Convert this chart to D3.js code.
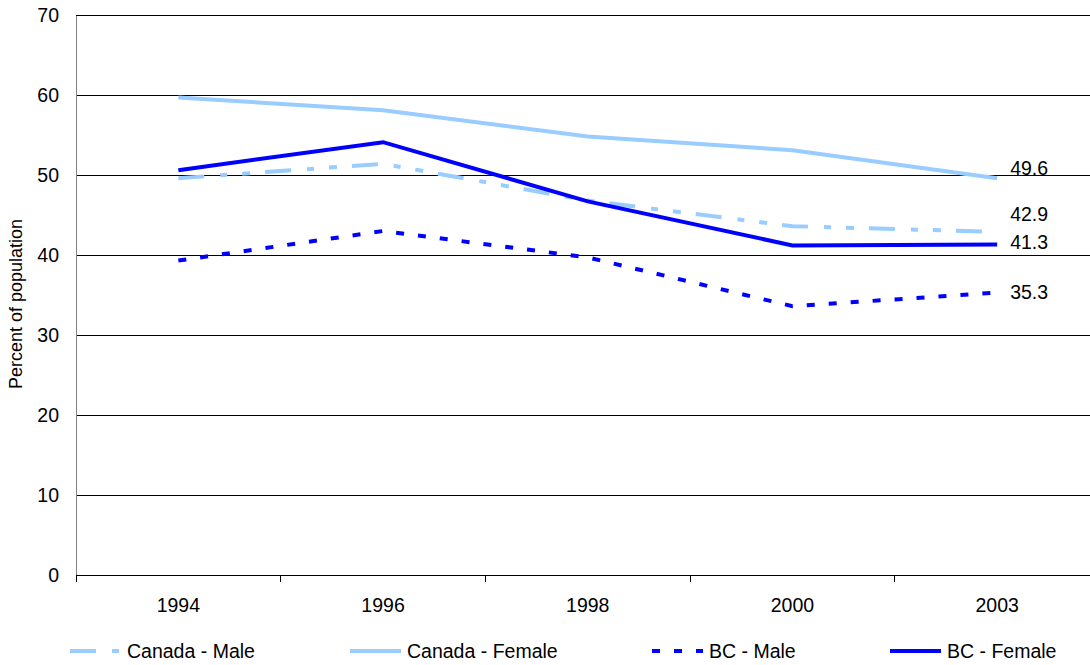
<!DOCTYPE html>
<html lang="en">
<head>
<meta charset="utf-8">
<title>Percent of population</title>
<script src="https://cdn.jsdelivr.net/npm/d3@7"></script>
<style>
  body { margin: 0; background: #fff; }
  text { font-family: "Liberation Sans", Arial, sans-serif; fill: #000; }
</style>
</head>
<body>
<div id="chart"></div>
<script>
// values
var years = ["1994", "1996", "1998", "2000", "2003"];
var canadaMale = [49.6, 51.4, 46.8, 43.6, 42.9];
var canadaFemale = [59.7, 58.1, 54.8, 53.1, 49.6];
var bcMale = [39.3, 43.0, 39.7, 33.6, 35.3];
var bcFemale = [50.6, 54.1, 46.7, 41.2, 41.3];
var yTicks = [0, 10, 20, 30, 40, 50, 60, 70];

var W = 1090, H = 665;
var plot = { left: 76, top: 15, right: 1099.5, bottom: 575 };
var fs = 19.5;

var series = [
  { name: "Canada - Male", values: canadaMale, color: "#99ccff", dash: "26,16,7,15,8,15", dy: -18 },
  { name: "Canada - Female", values: canadaFemale, color: "#99ccff", dash: null, dy: -10 },
  { name: "BC - Male", values: bcMale, color: "#0000ff", dash: "8,14", dy: 0 },
  { name: "BC - Female", values: bcFemale, color: "#0000ff", dash: null, dy: -2 }
];
var legendX = [70, 350, 652, 890];

var svg = d3.select("#chart").append("svg")
  .attr("width", W).attr("height", H);

var x = d3.scaleBand().domain(years).range([plot.left, plot.right]);
var y = d3.scaleLinear().domain([0, 70]).range([plot.bottom, plot.top]);

// gridlines
svg.append("g").selectAll("line")
  .data(yTicks.filter(function (d) { return d > 0; }))
  .enter().append("line")
  .attr("x1", plot.left).attr("x2", plot.right)
  .attr("y1", function (d) { return y(d); })
  .attr("y2", function (d) { return y(d); })
  .attr("stroke", "#000").attr("stroke-width", 1)
  .attr("shape-rendering", "crispEdges");

// y axis
var yAxis = svg.append("g")
  .attr("transform", "translate(" + plot.left + ",0)")
  .call(d3.axisLeft(y).tickValues(yTicks).tickSize(0).tickPadding(17));
yAxis.select(".domain").attr("stroke", "#808080").attr("shape-rendering", "crispEdges");
yAxis.selectAll("text").attr("font-size", fs).attr("font-family", "Liberation Sans, Arial, sans-serif");

// x axis with ticks between categories
var xAxisG = svg.append("g")
  .attr("transform", "translate(0," + plot.bottom + ")");
xAxisG.append("line")
  .attr("x1", plot.left).attr("x2", plot.right)
  .attr("stroke", "#000").attr("shape-rendering", "crispEdges");
xAxisG.selectAll("line.tick")
  .data(years)
  .enter().append("line")
  .attr("class", "tick")
  .attr("x1", function (d) { return x(d); })
  .attr("x2", function (d) { return x(d); })
  .attr("y1", 0).attr("y2", 7)
  .attr("stroke", "#000").attr("shape-rendering", "crispEdges");
xAxisG.selectAll("text")
  .data(years)
  .enter().append("text")
  .attr("x", function (d) { return x(d) + x.bandwidth() / 2; })
  .attr("y", 37)
  .attr("text-anchor", "middle")
  .attr("font-size", fs)
  .text(function (d) { return d; });

// axis title
svg.append("text")
  .attr("transform", "translate(22,304) rotate(-90)")
  .attr("text-anchor", "middle")
  .attr("font-size", 18)
  .text("Percent of population");

// lines
var line = d3.line()
  .x(function (d, i) { return x(years[i]) + x.bandwidth() / 2; })
  .y(function (d) { return y(d); });

svg.append("g").selectAll("path")
  .data(series)
  .enter().append("path")
  .attr("d", function (s) { return line(s.values); })
  .attr("fill", "none")
  .attr("stroke", function (s) { return s.color; })
  .attr("stroke-width", 4)
  .attr("stroke-dasharray", function (s) { return s.dash; });

// end labels
var last = years.length - 1;
svg.append("g").selectAll("text")
  .data(series)
  .enter().append("text")
  .attr("x", x(years[last]) + x.bandwidth() / 2 + 13)
  .attr("y", function (s) { return y(s.values[last]) + s.dy; })
  .attr("dy", "0.35em")
  .attr("font-size", fs)
  .text(function (s) { return s.values[last].toFixed(1); });

// legend
var lg = svg.append("g").attr("transform", "translate(0,651)");
var item = lg.selectAll("g")
  .data(series)
  .enter().append("g")
  .attr("transform", function (s, i) { return "translate(" + legendX[i] + ",0)"; });
item.append("line")
  .attr("x1", 0).attr("x2", 51)
  .attr("stroke", function (s) { return s.color; })
  .attr("stroke-width", 4)
  .attr("stroke-dasharray", function (s) { return s.dash; });
item.append("text")
  .attr("x", 57)
  .attr("dy", "0.35em")
  .attr("font-size", fs)
  .text(function (s) { return s.name; });
</script>
</body>
</html>
